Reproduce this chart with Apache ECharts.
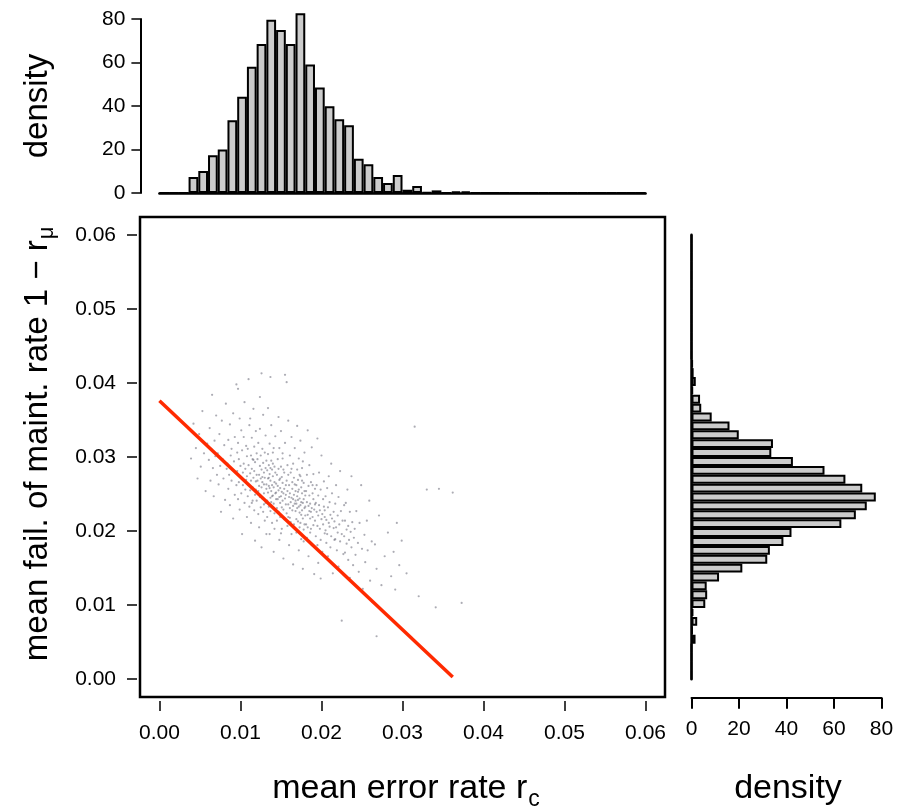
<!DOCTYPE html>
<html>
<head>
<meta charset="utf-8">
<script src="https://cdn.jsdelivr.net/npm/echarts@6/dist/echarts.min.js"></script>
<style>
  html, body { margin: 0; padding: 0; background: #ffffff; }
  #chart { width: 898px; height: 809px; }
</style>
</head>
<body>
<div id="chart"></div>
<script>
// ---- data ---------------------------------------------------------------

// tick positions of the shared rate axes and of the density axes
const rateTicks = [0, 0.01, 0.02, 0.03, 0.04, 0.05, 0.06];
const densityTicks = [0, 20, 40, 60, 80];

// histogram bins: 50 bins of width 0.0012 covering 0 .. 0.06
const binCount = 50;

// density of the mean error rate r_c per bin (top histogram)
const errorDensity = [
  0, 0, 0, 7.4, 10.1, 17.4, 20.0, 33.5, 44.2, 58.1,
  68.5, 79.6, 75.0, 68.5, 82.6, 59.1, 48.5, 39.9, 33.9, 31.2,
  15.7, 13.2, 7.4, 4.6, 8.3, 1.5, 3.2, 0.3, 1.2, 0,
  0.6, 0.6, 0, 0, 0, 0, 0, 0, 0, 0,
  0, 0, 0, 0, 0, 0, 0, 0, 0, 0
];

// density of the mean maintenance failure rate 1 - r_mu per bin (right histogram)
const failDensity = [
  0, 0, 0, 0, 1.7, 0.4, 2.4, 0.8, 5.8, 6.6,
  6.4, 11.6, 21.4, 31.9, 33.0, 38.7, 42.1, 63.1, 69.2, 73.8,
  77.6, 71.9, 64.8, 56.0, 42.7, 33.6, 34.3, 19.9, 16.0, 8.5,
  4.1, 3.6, 0.6, 1.8, 0.9, 0.5, 0, 0, 0, 0,
  0, 0, 0, 0, 0, 0, 0, 0, 0, 0
];

// end points of the red reference line
const lineX = [0, 0.0362];
const lineY = [0.0376, 0.0003];

// sampled pairs (mean error rate, mean fail. of maint. rate)
const samplePoints = [
  [.0039,.0298],[.0042,.0345],[.0045,.0312],[.0047,.0271],
  [.0049,.0331],[.0051,.0287],[.0053,.0362],[.0055,.0305],[.0057,.0254],[.0059,.0318],
  [.0061,.0296],[.0062,.0339],[.0063,.0268],[.0064,.0311],[.0065,.0384],[.0066,.0285],[.0067,.0247],[.0068,.0322],[.0069,.0301],[.0070,.0356],[.0071,.0276],
  [.0072,.0305],[.0073,.0263],[.0074,.0331],[.0075,.0288],[.0076,.0226],[.0077,.0349],[.0078,.0297],[.0079,.0271],[.0080,.0316],[.0081,.0242],[.0082,.0372],[.0083,.0284],
  [.0084,.0291],[.0085,.0257],[.0085,.0323],[.0086,.0276],[.0087,.0344],[.0087,.0235],[.0088,.0302],[.0089,.0268],[.0089,.0311],[.0090,.0283],[.0091,.0217],[.0091,.0359],[.0092,.0294],[.0093,.0249],[.0093,.0327],[.0094,.0279],[.0095,.0398],[.0095,.0262],[.0096,.0306],
  [.0096,.0281],[.0097,.0243],[.0097,.0319],[.0098,.0266],[.0098,.0297],[.0099,.0352],[.0099,.0229],[.0100,.0288],[.0100,.0273],[.0101,.0336],[.0101,.0251],[.0102,.0309],[.0102,.0196],[.0103,.0279],[.0103,.0262],[.0104,.0327],[.0104,.0291],[.0105,.0238],[.0105,.0374],[.0106,.0284],[.0106,.0256],[.0107,.0315],[.0107,.0269],[.0108,.0301],[.0108,.0219],[.0097,.0392],
  [.0108,.0274],[.0109,.0247],[.0109,.0311],[.0110,.0262],[.0110,.0289],[.0111,.0233],[.0111,.0343],[.0112,.0278],[.0112,.0255],[.0113,.0302],[.0113,.0211],[.0113,.0268],[.0114,.0326],[.0114,.0284],[.0115,.0241],[.0115,.0297],[.0115,.0259],[.0116,.0365],[.0116,.0272],[.0117,.0228],[.0117,.0314],[.0117,.0281],[.0118,.0249],[.0118,.0293],[.0118,.0187],[.0119,.0267],[.0119,.0335],[.0119,.0256],[.0120,.0305],[.0120,.0276],[.0110,.0405],[.0114,.0238],[.0116,.0296],[.0112,.0352],
  [.0120,.0241],[.0121,.0268],[.0121,.0297],[.0122,.0223],[.0122,.0254],[.0122,.0319],[.0123,.0276],[.0123,.0261],[.0123,.0205],[.0124,.0288],[.0124,.0246],[.0124,.0338],[.0125,.0271],[.0125,.0232],[.0125,.0302],[.0126,.0259],[.0126,.0283],[.0126,.0178],[.0127,.0266],[.0127,.0311],[.0127,.0244],[.0128,.0292],[.0128,.0226],[.0128,.0357],[.0129,.0263],[.0129,.0279],[.0129,.0251],[.0130,.0214],[.0130,.0306],[.0130,.0272],[.0131,.0238],[.0131,.0329],[.0131,.0285],[.0132,.0257],[.0132,.0196],[.0132,.0295],[.0124,.0381],[.0127,.0273],[.0129,.0236],[.0126,.0413],
  [.0132,.0263],[.0133,.0241],[.0133,.0282],[.0133,.0219],[.0134,.0271],[.0134,.0304],[.0134,.0252],[.0135,.0233],[.0135,.0289],[.0135,.0261],[.0136,.0196],[.0136,.0277],[.0136,.0318],[.0137,.0245],[.0137,.0268],[.0137,.0227],[.0138,.0295],[.0138,.0254],[.0138,.0343],[.0139,.0262],[.0139,.0211],[.0139,.0283],[.0140,.0248],[.0140,.0274],[.0140,.0306],[.0141,.0237],[.0141,.0259],[.0141,.0172],[.0142,.0287],[.0142,.0266],[.0142,.0224],[.0143,.0251],[.0143,.0328],[.0143,.0279],[.0144,.0243],[.0144,.0264],[.0134,.0366],[.0136,.0258],[.0138,.0239],[.0140,.0291],[.0142,.0203],[.0137,.0285],[.0139,.0247],[.0141,.0312],[.0135,.0272],[.0137,.0408],
  [.0144,.0252],[.0145,.0231],[.0145,.0276],[.0145,.0214],[.0146,.0261],[.0146,.0297],[.0146,.0243],[.0147,.0226],[.0147,.0284],[.0147,.0255],[.0148,.0188],[.0148,.0269],[.0148,.0312],[.0149,.0238],[.0149,.0258],[.0149,.0219],[.0150,.0287],[.0150,.0247],[.0150,.0335],[.0151,.0253],[.0151,.0203],[.0151,.0273],[.0152,.0241],[.0152,.0265],[.0152,.0298],[.0153,.0229],[.0153,.0251],[.0153,.0163],[.0154,.0279],[.0154,.0257],[.0154,.0216],[.0155,.0244],[.0155,.0319],[.0155,.0411],[.0156,.0236],[.0156,.0262],[.0147,.0354],[.0149,.0271],[.0151,.0232],[.0153,.0283],[.0148,.0246],[.0150,.0197],[.0152,.0305],
  [.0156,.0249],[.0157,.0224],[.0157,.0268],[.0157,.0401],[.0158,.0207],[.0158,.0254],[.0158,.0289],[.0159,.0236],[.0159,.0219],[.0159,.0276],[.0160,.0246],[.0160,.0181],[.0160,.0262],[.0161,.0302],[.0161,.0231],[.0161,.0251],[.0162,.0212],[.0162,.0279],[.0162,.0239],[.0163,.0327],[.0163,.0245],[.0163,.0196],[.0164,.0266],[.0164,.0228],[.0164,.0257],[.0165,.0291],[.0165,.0234],[.0165,.0155],[.0166,.0272],[.0166,.0249],[.0166,.0209],[.0167,.0237],[.0167,.0312],[.0167,.0263],[.0168,.0227],[.0168,.0254],[.0159,.0349],[.0161,.0218],[.0163,.0284],[.0165,.0243],
  [.0168,.0241],[.0169,.0216],[.0169,.0262],[.0169,.0198],[.0170,.0247],[.0170,.0283],[.0170,.0231],[.0171,.0213],[.0171,.0269],[.0171,.0242],[.0172,.0174],[.0172,.0256],[.0172,.0298],[.0173,.0225],[.0173,.0244],[.0173,.0205],[.0174,.0274],[.0174,.0235],[.0174,.0322],[.0175,.0239],[.0175,.0189],[.0175,.0259],[.0176,.0228],[.0176,.0251],[.0176,.0285],[.0177,.0217],[.0177,.0238],[.0177,.0149],[.0178,.0265],[.0178,.0243],[.0178,.0202],[.0179,.0231],[.0179,.0306],[.0179,.0254],[.0180,.0221],[.0180,.0248],[.0170,.0342],[.0172,.0233],[.0174,.0211],[.0176,.0268],[.0178,.0186],[.0171,.0253],[.0173,.0276],[.0175,.0222],[.0177,.0294],[.0179,.0209],[.0169,.0237],
  [.0180,.0233],[.0181,.0209],[.0181,.0254],[.0182,.0191],[.0182,.0239],[.0182,.0276],[.0183,.0222],[.0183,.0205],[.0184,.0261],[.0184,.0234],[.0184,.0166],[.0185,.0248],[.0185,.0289],[.0186,.0217],[.0186,.0237],[.0186,.0198],[.0187,.0266],[.0187,.0226],[.0188,.0313],[.0188,.0231],[.0188,.0181],[.0189,.0251],[.0189,.0219],[.0190,.0243],[.0190,.0277],[.0190,.0208],[.0191,.0229],[.0191,.0142],[.0192,.0257],[.0192,.0236],[.0183,.0336],[.0185,.0227],[.0187,.0203],[.0189,.0262],
  [.0192,.0214],[.0193,.0238],[.0193,.0193],[.0194,.0226],[.0194,.0262],[.0195,.0207],[.0195,.0181],[.0196,.0248],[.0196,.0221],[.0196,.0157],[.0197,.0235],[.0197,.0279],[.0198,.0203],[.0198,.0228],[.0199,.0188],[.0199,.0256],[.0200,.0216],[.0200,.0302],[.0201,.0223],[.0201,.0172],[.0202,.0243],[.0202,.0209],[.0203,.0233],[.0203,.0267],[.0204,.0197],[.0204,.0219],[.0195,.0325],[.0199,.0136],
  [.0204,.0228],[.0205,.0201],[.0205,.0247],[.0206,.0184],[.0206,.0215],[.0207,.0258],[.0207,.0196],[.0208,.0232],[.0208,.0166],[.0209,.0211],[.0209,.0274],[.0210,.0206],[.0210,.0239],[.0211,.0178],[.0211,.0222],[.0212,.0291],[.0212,.0193],[.0213,.0217],[.0213,.0251],[.0214,.0143],[.0215,.0204],[.0215,.0226],[.0216,.0188],
  [.0216,.0213],[.0217,.0237],[.0217,.0189],[.0218,.0205],[.0218,.0262],[.0219,.0174],[.0220,.0221],[.0220,.0198],[.0221,.0246],[.0221,.0152],[.0222,.0209],[.0223,.0281],[.0223,.0186],[.0224,.0227],[.0225,.0196],[.0225,.0079],[.0226,.0214],[.0227,.0169],[.0228,.0235],
  [.0228,.0193],[.0229,.0214],[.0229,.0171],[.0230,.0238],[.0231,.0202],[.0231,.0183],[.0232,.0256],[.0233,.0161],[.0233,.0207],[.0234,.0188],[.0235,.0226],[.0235,.0137],[.0236,.0199],[.0237,.0274],[.0237,.0178],[.0238,.0212],[.0239,.0154],[.0240,.0191],
  [.0241,.0203],[.0242,.0168],[.0243,.0227],[.0245,.0184],[.0246,.0145],[.0247,.0211],[.0249,.0262],[.0250,.0176],[.0251,.0122],
  [.0253,.0195],[.0254,.0158],[.0256,.0214],[.0257,.0174],[.0259,.0241],[.0260,.0133],[.0262,.0186],[.0263,.0104],
  [.0266,.0182],[.0268,.0149],[.0271,.0221],[.0274,.0127],[.0268,.0058],
  [.0278,.0166],[.0282,.0198],[.0286,.0139],
  [.0289,.0172],[.0291,.0121],[.0293,.0211],[.0296,.0154],[.0299,.0187],
  [.0305,.0143],[.0315,.0341],[.0320,.0112],[.0330,.0256],[.0341,.0097],[.0345,.0257],
  [.0362,.0252],[.0373,.0103]
];

// ---- chart ----------------------------------------------------------------

const FONT = '"Liberation Sans", Arial, Helvetica, sans-serif';
const binNames = Array.from({ length: binCount }, (_, i) => 'b' + i);
const refLine = lineX.map((x, i) => [x, lineY[i]]);

const measureCtx = document.createElement('canvas').getContext('2d');
function textWidth(text, size) {
  measureCtx.font = size + 'px ' + FONT;
  return measureCtx.measureText(text).width;
}

const barStyle = { color: '#cccccc', borderColor: '#000000', borderWidth: 2 };
const tickLabel = { color: '#000000', fontSize: 21, fontFamily: FONT };

// axis titles with subscripts
const xMain = 'mean error rate r', xSub = 'c';
const yMain = 'mean fail. of maint. rate 1 \u2212 r', ySub = '\u03bc';
const xMainW = textWidth(xMain, 34), xSubW = textWidth(xSub, 23);
const yMainW = textWidth(yMain, 33), ySubW = textWidth(ySub, 22);
const xStart = 406 - (xMainW + xSubW + 1) / 2;
const yStart = 444 + (yMainW + ySubW + 1) / 2;

const chart = echarts.init(document.getElementById('chart'), null, { renderer: 'canvas' });

chart.setOption({
  animation: false,
  backgroundColor: '#ffffff',
  grid: [
    { left: 140, top: 217, width: 525, height: 480, show: true,
      borderColor: '#000000', borderWidth: 2.5, backgroundColor: 'transparent' },
    { left: 159.4, top: 19, width: 486.2, height: 174 },
    { left: 691.5, top: 234.8, width: 190, height: 444.4 }
  ],
  xAxis: [
    { gridIndex: 0, type: 'value', min: -0.0024, max: 0.0624, offset: 4,
      axisLine: { show: false, onZero: false },
      axisTick: { show: true, length: 10, customValues: rateTicks,
                  lineStyle: { color: '#000000', width: 1.5 } },
      axisLabel: Object.assign({ customValues: rateTicks, margin: 22,
                  formatter: v => v.toFixed(2) }, tickLabel),
      splitLine: { show: false } },
    { gridIndex: 1, type: 'category', data: binNames, boundaryGap: true,
      axisLine: { show: true, onZero: false, lineStyle: { color: '#000000', width: 2.5 } },
      axisTick: { show: false }, axisLabel: { show: false } },
    { gridIndex: 2, type: 'value', min: 0, max: 80, interval: 20, offset: 18.5,
      axisLine: { show: true, onZero: false, lineStyle: { color: '#000000', width: 2 } },
      axisTick: { show: true, length: 11, customValues: densityTicks,
                  lineStyle: { color: '#000000', width: 2 } },
      axisLabel: Object.assign({ customValues: densityTicks, margin: 21 }, tickLabel),
      splitLine: { show: false } }
  ],
  yAxis: [
    { gridIndex: 0, type: 'value', min: -0.0024, max: 0.0624, offset: 3,
      axisLine: { show: false, onZero: false },
      axisTick: { show: true, length: 10, customValues: rateTicks,
                  lineStyle: { color: '#000000', width: 1.5 } },
      axisLabel: Object.assign({ customValues: rateTicks, margin: 21,
                  formatter: v => v.toFixed(2) }, tickLabel),
      splitLine: { show: false } },
    { gridIndex: 1, type: 'value', min: 0, max: 80, interval: 20, offset: 19,
      axisLine: { show: true, onZero: false, lineStyle: { color: '#000000', width: 2 } },
      axisTick: { show: true, length: 9, customValues: densityTicks,
                  lineStyle: { color: '#000000', width: 1.5 } },
      axisLabel: Object.assign({ customValues: densityTicks, margin: 15 }, tickLabel),
      splitLine: { show: false } },
    { gridIndex: 2, type: 'category', data: binNames, boundaryGap: true,
      axisLine: { show: true, onZero: false, lineStyle: { color: '#000000', width: 2.5 } },
      axisTick: { show: false }, axisLabel: { show: false } }
  ],
  series: [
    { type: 'scatter', xAxisIndex: 0, yAxisIndex: 0, data: samplePoints,
      symbol: 'circle', symbolSize: 2.2, silent: true,
      itemStyle: { color: 'rgba(95,95,112,0.65)' } },
    { type: 'line', xAxisIndex: 0, yAxisIndex: 0, data: refLine,
      symbol: 'none', silent: true,
      lineStyle: { color: '#ff2a00', width: 3.5 } },
    { type: 'bar', xAxisIndex: 1, yAxisIndex: 1, data: errorDensity,
      barWidth: '100%', barCategoryGap: '0%', clip: false, silent: true,
      itemStyle: barStyle },
    { type: 'bar', xAxisIndex: 2, yAxisIndex: 2, data: failDensity,
      barWidth: '100%', barCategoryGap: '0%', clip: false, silent: true,
      itemStyle: barStyle }
  ],
  graphic: [
    { type: 'text', x: xStart, y: 789,
      style: { text: xMain, font: '34px ' + FONT, fill: '#000000',
               textAlign: 'left', textVerticalAlign: 'middle' } },
    { type: 'text', x: xStart + xMainW + 1, y: 800,
      style: { text: xSub, font: '23px ' + FONT, fill: '#000000',
               textAlign: 'left', textVerticalAlign: 'middle' } },
    { type: 'text', x: 788, y: 789,
      style: { text: 'density', font: '34px ' + FONT, fill: '#000000',
               textAlign: 'center', textVerticalAlign: 'middle' } },
    { type: 'text', x: 38, y: yStart, rotation: Math.PI / 2,
      style: { text: yMain, font: '33px ' + FONT, fill: '#000000',
               textAlign: 'left', textVerticalAlign: 'middle' } },
    { type: 'text', x: 47, y: yStart - yMainW - 1, rotation: Math.PI / 2,
      style: { text: ySub, font: '22px ' + FONT, fill: '#000000',
               textAlign: 'left', textVerticalAlign: 'middle' } },
    { type: 'text', x: 38, y: 106, rotation: Math.PI / 2,
      style: { text: 'density', font: '33px ' + FONT, fill: '#000000',
               textAlign: 'center', textVerticalAlign: 'middle' } }
  ]
});
</script>
</body>
</html>
